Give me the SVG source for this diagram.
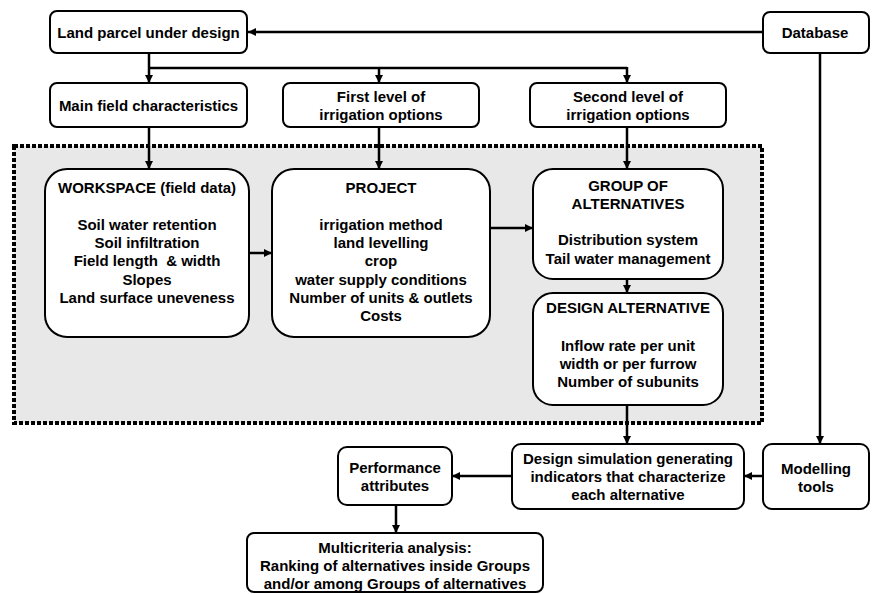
<svg xmlns="http://www.w3.org/2000/svg" width="872" height="594" viewBox="0 0 872 594">
<style>
.box{fill:#fff;stroke:#000;stroke-width:2}
.t{font-family:"Liberation Sans",Arial,sans-serif;font-weight:bold;font-size:15px;text-anchor:middle;fill:#000}
.c{fill:none;stroke:#000;stroke-width:2.5}
.a{marker-end:url(#ah)}
</style>
<defs>
<marker id="ah" markerUnits="userSpaceOnUse" markerWidth="9" markerHeight="9" refX="8" refY="4.5" orient="auto">
<path d="M0,0.5 L8,4.5 L0,8.5 z" fill="#000"/>
</marker>
</defs>
<rect x="14" y="146" width="748" height="277" fill="#e8e8e8" stroke="#000" stroke-width="4" stroke-dasharray="4 2"/>
<g id="land"><rect class="box" x="50" y="11" width="197" height="42" rx="7"/><text class="t" x="148.5" y="38">Land parcel under design</text></g>
<g id="database"><rect class="box" x="763" y="12" width="106" height="41" rx="7"/><text class="t" x="815" y="38">Database</text></g>
<g id="mainfield"><rect class="box" x="50" y="83" width="197" height="44" rx="7"/><text class="t" x="148.5" y="111">Main field characteristics</text></g>
<g id="firstlevel"><rect class="box" x="283" y="83" width="196" height="44" rx="7"/><text class="t" x="381" y="102">First level of</text><text class="t" x="381" y="120">irrigation options</text></g>
<g id="secondlevel"><rect class="box" x="530" y="83" width="196" height="44" rx="7"/><text class="t" x="628" y="102">Second level of</text><text class="t" x="628" y="120">irrigation options</text></g>
<g id="workspace"><rect class="box" x="45" y="169" width="204" height="168" rx="22"/>
<text class="t" x="147" y="193">WORKSPACE (field data)</text>
<text class="t" x="147" y="230">Soil water retention</text>
<text class="t" x="147" y="248">Soil infiltration</text>
<text class="t" x="147" y="266">Field length &#160;&amp; width</text>
<text class="t" x="147" y="285">Slopes</text>
<text class="t" x="147" y="303">Land surface uneveness</text></g>
<g id="project"><rect class="box" x="272" y="169" width="218" height="168" rx="22"/>
<text class="t" x="381" y="193">PROJECT</text>
<text class="t" x="381" y="230">irrigation method</text>
<text class="t" x="381" y="248">land levelling</text>
<text class="t" x="381" y="266">crop</text>
<text class="t" x="381" y="285">water supply conditions</text>
<text class="t" x="381" y="303">Number of units &amp; outlets</text>
<text class="t" x="381" y="321">Costs</text></g>
<g id="group"><rect class="box" x="533" y="169" width="190" height="110" rx="20"/>
<text class="t" x="628" y="191">GROUP OF</text>
<text class="t" x="628" y="209">ALTERNATIVES</text>
<text class="t" x="628" y="245">Distribution system</text>
<text class="t" x="628" y="264">Tail water management</text></g>
<g id="design"><rect class="box" x="533" y="293" width="190" height="112" rx="20"/>
<text class="t" x="628" y="313">DESIGN ALTERNATIVE</text>
<text class="t" x="628" y="351">Inflow rate per unit</text>
<text class="t" x="628" y="369">width or per furrow</text>
<text class="t" x="628" y="387">Number of subunits</text></g>
<g id="simulation"><rect class="box" x="512" y="444" width="232" height="65" rx="9"/>
<text class="t" x="628" y="464">Design simulation generating</text>
<text class="t" x="628" y="482">indicators that characterize</text>
<text class="t" x="628" y="500">each alternative</text></g>
<g id="modelling"><rect class="box" x="763" y="444" width="106" height="65" rx="9"/>
<text class="t" x="816" y="474">Modelling</text>
<text class="t" x="816" y="492">tools</text></g>
<g id="performance"><rect class="box" x="338" y="447" width="114" height="58" rx="9"/>
<text class="t" x="395" y="473">Performance</text>
<text class="t" x="395" y="491">attributes</text></g>
<g id="multicriteria"><rect class="box" x="247" y="533" width="296" height="59" rx="7"/>
<text class="t" x="395" y="553">Multicriteria analysis:</text>
<text class="t" x="395" y="571">Ranking of alternatives inside Groups</text>
<text class="t" x="395" y="589">and/or among Groups of alternatives</text></g>
<g id="connectors">
<path class="c a" d="M763,32 H248"/>
<path class="c a" d="M149,53 V83"/>
<path class="c" d="M149,68 H627"/>
<path class="c a" d="M379,68 V83"/>
<path class="c a" d="M627,67 V83"/>
<path class="c a" d="M149,127 V169"/>
<path class="c a" d="M379,127 V169"/>
<path class="c a" d="M627,127 V169"/>
<path class="c a" d="M249,253 H272"/>
<path class="c a" d="M490,228 H533"/>
<path class="c a" d="M627,279 V293"/>
<path class="c a" d="M627,405 V444"/>
<path class="c a" d="M820,53 V444"/>
<path class="c a" d="M763,476 H744"/>
<path class="c a" d="M512,476 H452"/>
<path class="c a" d="M396,505 V533"/>
</g>
</svg>
